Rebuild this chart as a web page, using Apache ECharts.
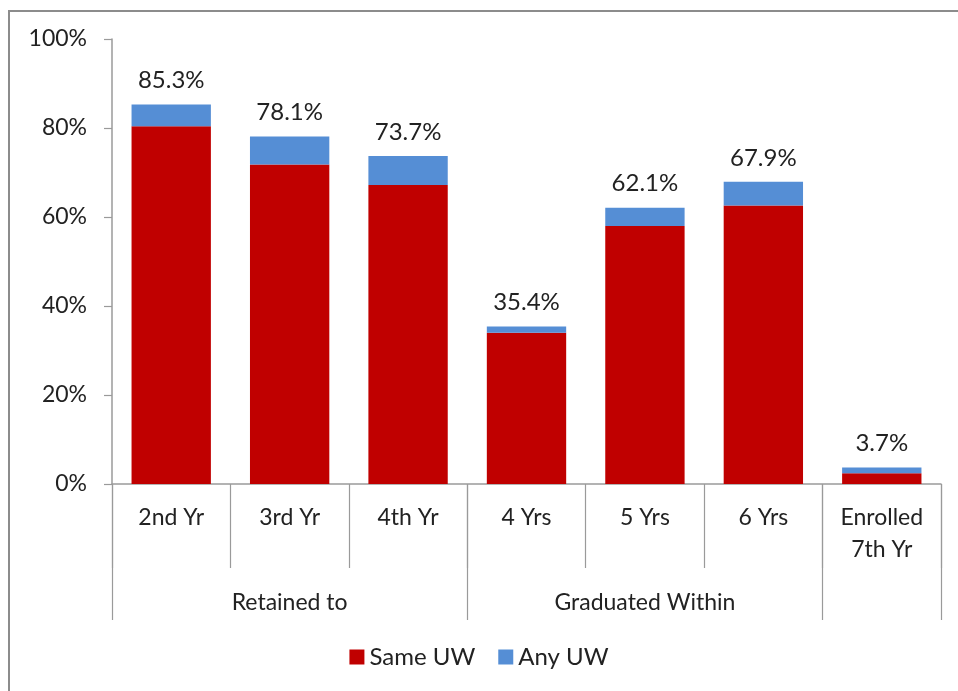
<!DOCTYPE html>
<html>
<head>
<meta charset="utf-8">
<script src="https://cdn.jsdelivr.net/npm/echarts@6/dist/echarts.min.js"></script>
<style>
  html, body { margin: 0; padding: 0; background: #fff; }
  #chart { width: 958px; height: 691px; }
</style>
</head>
<body>
<div id="chart"></div>
<script>
// categories (first level) and groups (second level)
var categories = ['2nd Yr', '3rd Yr', '4th Yr', '4 Yrs', '5 Yrs', '6 Yrs', 'Enrolled\n7th Yr'];
var groupLabels = ['', 'Retained to', '', '', 'Graduated Within', '', ''];
var groupStarts = [0, 3, 6];

// values (%)
var sameUW = [80.4, 71.8, 67.2, 34.0, 58.0, 62.6, 2.4];
var anyUW = [4.9, 6.3, 6.5, 1.4, 4.1, 5.3, 1.3];
var totals = [85.3, 78.1, 73.7, 35.4, 62.1, 67.9, 3.7];

var yTicks = [0, 20, 40, 60, 80, 100];

var font = 'Lato';
var textColor = '#222';
var lineColor = '#9a9a9a';

var myChart = echarts.init(document.getElementById('chart'));

var option = {
  animation: false,
  textStyle: { fontFamily: font },
  graphic: [
    {
      type: 'rect',
      shape: { x: 9, y: 11, width: 1000, height: 1000 },
      style: { fill: 'none', stroke: '#8c8c8c', lineWidth: 2 },
      silent: true
    }
  ],
  grid: { left: 112, right: 17, top: 39, bottom: 207 },
  legend: {
    bottom: 17,
    left: 'center',
    itemWidth: 15,
    itemHeight: 15,
    itemGap: 23,
    icon: 'rect',
    textStyle: { fontFamily: font, fontSize: 24, color: textColor },
    data: ['Same UW', 'Any UW']
  },
  xAxis: [
    {
      type: 'category',
      data: categories,
      position: 'bottom',
      axisLine: { lineStyle: { color: lineColor, width: 1.5 } },
      axisTick: { show: true, interval: 0, length: 84, lineStyle: { color: lineColor, width: 1.2 } },
      axisLabel: {
        interval: 0,
        margin: 18,
        fontFamily: font,
        fontSize: 23,
        lineHeight: 32,
        color: textColor
      }
    },
    {
      type: 'category',
      data: groupLabels,
      position: 'bottom',
      axisLine: { show: false },
      axisTick: {
        show: true,
        length: 136,
        interval: function (index) { return groupStarts.indexOf(index) >= 0; },
        lineStyle: { color: lineColor, width: 1.2 }
      },
      axisLabel: {
        interval: 0,
        margin: 103,
        fontFamily: font,
        fontSize: 23,
        lineHeight: 32,
        color: textColor
      }
    }
  ],
  yAxis: {
    type: 'value',
    min: yTicks[0],
    max: yTicks[yTicks.length - 1],
    interval: 20,
    splitLine: { show: false },
    axisLine: { show: true, lineStyle: { color: lineColor, width: 1.5 } },
    axisTick: { show: true, length: 8, lineStyle: { color: lineColor, width: 1.2 } },
    axisLabel: {
      margin: 25,
      fontFamily: font,
      fontSize: 23,
      color: textColor,
      formatter: '{value}%'
    }
  },
  series: [
    {
      name: 'Same UW',
      type: 'bar',
      stack: 'total',
      barWidth: '67%',
      data: sameUW,
      itemStyle: { color: '#C00000' }
    },
    {
      name: 'Any UW',
      type: 'bar',
      stack: 'total',
      barWidth: '67%',
      data: anyUW,
      itemStyle: { color: '#558ED5' },
      label: {
        show: true,
        position: 'top',
        distance: 12,
        fontFamily: font,
        fontSize: 24,
        color: textColor,
        formatter: function (p) { return totals[p.dataIndex].toFixed(1) + '%'; }
      }
    }
  ]
};

myChart.setOption(option);
</script>
</body>
</html>
